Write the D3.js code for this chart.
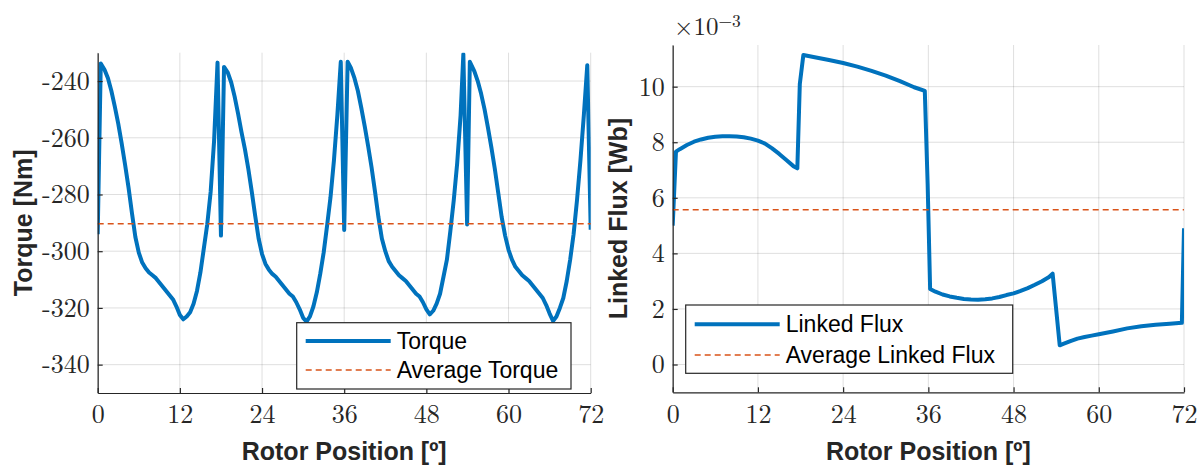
<!DOCTYPE html>
<html>
<head>
<meta charset="utf-8">
<script src="https://cdn.jsdelivr.net/npm/d3@7"></script>
<style>
  body { margin: 0; background: #fff; }
</style>
</head>
<body>
<svg width="1203" height="465"></svg>
<script>
// torque vs rotor position
var torquePos = [0, 0.45, 1, 1.5, 2, 2.5, 3, 3.5, 4, 4.5, 5, 5.5, 6, 6.5, 7, 7.5, 8, 8.5, 9, 9.5, 10, 10.5, 11, 11.5, 12, 12.5, 13, 13.5, 14, 14.5, 15, 15.5, 16, 16.5, 17, 17.5,
  18, 18.45, 19, 19.5, 20, 20.5, 21, 21.5, 22, 22.5, 23, 23.5, 24, 24.5, 25, 25.5, 26, 26.5, 27, 27.5, 28, 28.5, 29, 29.5, 30, 30.5, 31, 31.5, 32, 32.5, 33, 33.5, 34, 34.5, 35, 35.5,
  36, 36.5, 37, 37.5, 38, 38.5, 39, 39.5, 40, 40.5, 41, 41.5, 42, 42.5, 43, 43.5, 44, 44.5, 45, 45.5, 46, 46.5, 47, 47.5, 48, 48.5, 49, 49.5, 50, 50.5, 51, 51.5, 52, 52.5, 53, 53.4,
  53.95, 54.35, 55, 55.5, 56, 56.5, 57, 57.5, 58, 58.5, 59, 59.5, 60, 60.5, 61, 61.5, 62, 62.5, 63, 63.5, 64, 64.5, 65, 65.5, 66, 66.5, 67, 67.5, 68, 68.5, 69, 69.5, 70, 70.5, 71, 71.5, 72];
var torqueVal = [-294, -233.8, -236, -239, -243.5, -249, -255, -262, -269.5, -277.5, -286.5, -295, -300.5, -304, -306, -307.5, -308.5, -309.5, -311, -312.5, -314, -315.5, -317, -319.5, -322.5, -324, -323, -321.5, -318.5, -314, -307.5, -299, -290.5, -279, -261, -233.5,
  -294.5, -235, -237, -240.5, -245.5, -251.5, -258, -264, -271, -279, -287.5, -295.5, -301, -304.5, -306.5, -308, -309, -310.5, -312, -313.5, -315, -316, -318, -320.5, -323.5, -324.8, -323, -319.5, -314.5, -308, -300.5, -291, -281, -268, -252, -233.2,
  -292.5, -233.2, -235.5, -239, -243.5, -249.5, -256, -263, -270.5, -279, -288, -295.5, -300, -303.5, -305.5, -307, -308.5, -309.5, -310.5, -312, -313.5, -315, -316, -318, -320.5, -322.3, -321, -318.5, -315, -309, -303, -293, -282, -269, -252, -230.5,
  -290.6, -233.2, -236.5, -240, -244.5, -250, -256.5, -263.5, -271, -279.5, -288, -294.5, -299.5, -303, -305.5, -307, -308.5, -309.5, -310.5, -312, -313.5, -315, -316.5, -319, -322, -324.6, -323, -320, -316.5, -310.5, -303, -294, -282, -268, -252, -234.4, -292.4];
var avgTorque = -290.3;

// linked flux (x10^-3 Wb)
var fluxPos = [0, 0.46, 1, 2, 3, 4, 5, 6, 7, 8, 9, 10, 11, 12, 13, 14, 15, 16, 17, 17.55, 17.9, 18.4,
  20, 22, 24, 26, 28, 30, 32, 34, 35.5, 35.9, 36.25, 37, 38, 39, 40, 41, 42, 43, 44, 45, 46, 47, 48, 49, 50, 51, 52, 53, 53.5,
  54.5, 55, 56, 57, 58, 59, 60, 62, 64, 66, 68, 70, 71.7, 72];
var fluxVal = [5.0, 7.66, 7.75, 7.9, 8.02, 8.1, 8.16, 8.2, 8.22, 8.22, 8.21, 8.18, 8.13, 8.06, 7.95, 7.78, 7.58, 7.36, 7.14, 7.06, 10.1, 11.14,
  11.06, 10.96, 10.85, 10.72, 10.57, 10.4, 10.2, 9.98, 9.85, 6.5, 2.72, 2.62, 2.52, 2.45, 2.4, 2.36, 2.34, 2.33, 2.35, 2.38, 2.43, 2.5, 2.56, 2.65, 2.75, 2.87, 3.0, 3.15, 3.27,
  0.69, 0.74, 0.84, 0.93, 0.99, 1.04, 1.09, 1.19, 1.3, 1.38, 1.43, 1.47, 1.5, 4.9];
var avgFlux = 5.57;

var xTicks = [0, 12, 24, 36, 48, 60, 72];
var torqueTicks = [-340, -320, -300, -280, -260, -240];
var fluxTicks = [0, 2, 4, 6, 8, 10];

var svg = d3.select("svg");
var blue = "#0072BD", orange = "#D95319", axc = "#262626";
var serif = "'Latin Modern Roman', 'Liberation Serif', serif";
var sans = "'Liberation Sans', Arial, sans-serif";

function panel(o) {
  var x = d3.scaleLinear().domain([0, 72]).range([o.left, o.right]);
  var y = d3.scaleLinear().domain(o.ydom).range([o.bottom, o.top]);
  var g = svg.append("g");

  // grid
  g.selectAll("line.vg").data(xTicks).enter().append("line")
    .attr("x1", d => x(d)).attr("x2", d => x(d))
    .attr("y1", o.top).attr("y2", o.bottom)
    .attr("stroke", axc).attr("stroke-opacity", 0.15).attr("stroke-width", 1);
  g.selectAll("line.hg").data(o.yticks).enter().append("line")
    .attr("x1", o.left).attr("x2", o.right)
    .attr("y1", d => y(d)).attr("y2", d => y(d))
    .attr("stroke", axc).attr("stroke-opacity", 0.15).attr("stroke-width", 1);

  g.append("clipPath").attr("id", o.id)
    .append("rect").attr("x", o.left).attr("y", o.top)
    .attr("width", o.right - o.left).attr("height", o.bottom - o.top);

  var pts = o.xs.map((v, i) => [v, o.ys[i]]);
  g.append("path").datum(pts)
    .attr("clip-path", "url(#" + o.id + ")")
    .attr("fill", "none").attr("stroke", blue).attr("stroke-width", 4)
    .attr("stroke-linejoin", "round")
    .attr("d", d3.line().x(d => x(d[0])).y(d => y(d[1])));

  g.append("line")
    .attr("x1", x(0)).attr("x2", x(72))
    .attr("y1", y(o.avg)).attr("y2", y(o.avg))
    .attr("stroke", orange).attr("stroke-width", 1.5)
    .attr("stroke-dasharray", "6,4");

  var xa = g.append("g").attr("transform", "translate(0," + o.bottom + ")")
    .call(d3.axisBottom(x).tickValues(xTicks).tickSizeInner(-5).tickSizeOuter(0).tickPadding(12));
  var ya = g.append("g").attr("transform", "translate(" + o.left + ",0)")
    .call(d3.axisLeft(y).tickValues(o.yticks).tickSizeInner(-5).tickSizeOuter(0).tickPadding(8)
      .tickFormat(d => d < 0 ? "-" + Math.abs(d) : d));
  [xa, ya].forEach(function(a) {
    a.select(".domain").attr("stroke", axc).attr("stroke-width", 1.2);
    a.selectAll(".tick line").attr("stroke", axc).attr("stroke-width", 1.2);
    a.selectAll(".tick text").attr("fill", axc)
      .style("font-family", serif).style("font-size", "26px");
  });

  g.append("text")
    .style("font-family", sans).style("font-weight", "bold").style("font-size", "25px")
    .attr("fill", axc)
    .attr("x", (o.left + o.right) / 2).attr("y", 460)
    .attr("text-anchor", "middle").text("Rotor Position [º]");
  g.append("text")
    .style("font-family", sans).style("font-weight", "bold").style("font-size", "25px")
    .attr("fill", axc)
    .attr("transform", "translate(" + o.ylx + "," + (o.top + o.bottom) / 2 + ") rotate(-90)")
    .attr("text-anchor", "middle").text(o.ylabel);

  // legend
  var L = o.leg;
  g.append("rect").attr("x", L.x).attr("y", L.y).attr("width", L.w).attr("height", L.h)
    .attr("fill", "#fff").attr("stroke", axc).attr("stroke-width", 1.2);
  g.append("line").attr("x1", L.x + 9).attr("x2", L.x + 94)
    .attr("y1", L.r1).attr("y2", L.r1).attr("stroke", blue).attr("stroke-width", 4);
  g.append("line").attr("x1", L.x + 9).attr("x2", L.x + 94)
    .attr("y1", L.r2).attr("y2", L.r2).attr("stroke", orange).attr("stroke-width", 1.5)
    .attr("stroke-dasharray", "6,4");
  [[o.names[0], L.r1], [o.names[1], L.r2]].forEach(function(n) {
    g.append("text").attr("x", L.x + 100).attr("y", n[1] + 8)
      .style("font-family", sans).style("font-size", "23px").attr("fill", "#000")
      .text(n[0]);
  });
}

panel({
  id: "c1", left: 97.7, right: 590.7, top: 52.7, bottom: 393,
  ydom: [-350, -230], yticks: torqueTicks, xs: torquePos, ys: torqueVal, avg: avgTorque,
  ylabel: "Torque [Nm]", ylx: 32,
  leg: { x: 296.7, y: 322.7, w: 274.3, h: 66.3, r1: 341, r2: 370 },
  names: ["Torque", "Average Torque"]
});

panel({
  id: "c2", left: 672.7, right: 1184, top: 45, bottom: 392.3,
  ydom: [-1, 11.5], yticks: fluxTicks, xs: fluxPos, ys: fluxVal, avg: avgFlux,
  ylabel: "Linked Flux [Wb]", ylx: 627,
  leg: { x: 685.7, y: 305, w: 327, h: 68.3, r1: 324.3, r2: 355 },
  names: ["Linked Flux", "Average Linked Flux"]
});

// exponent label
var ex = svg.append("text").attr("x", 674).attr("y", 34.5).attr("fill", axc)
  .style("font-family", serif).style("font-size", "25px");
ex.append("tspan").text("×10");
ex.append("tspan").style("font-size", "17.5px").attr("dy", -8).text("−3");
</script>
</body>
</html>
